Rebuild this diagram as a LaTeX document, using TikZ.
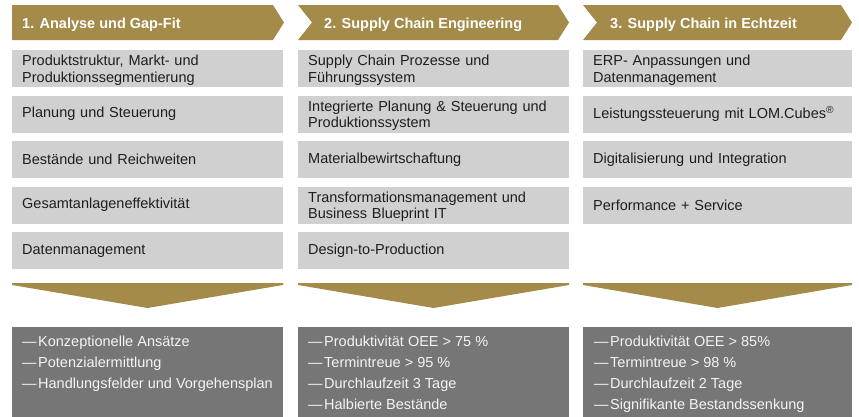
\documentclass[tikz,border=0pt]{standalone}
\usepackage{fontspec}
\setmainfont{Liberation Sans}
\definecolor{gold}{HTML}{A48B4A}
\definecolor{lightbox}{HTML}{D0D0D0}
\definecolor{darkbox}{HTML}{767676}
\definecolor{boxtext}{HTML}{1E1E1E}
\definecolor{restext}{HTML}{F4F4F4}
\newcommand\mystrut{\rule{0pt}{14pt}}
\newcommand\rdash{\textemdash\kern1.5pt}
\tikzset{
  itembox/.style={fill=lightbox, anchor=north west, minimum height=37pt,
    text width=#1, inner xsep=10pt, inner ysep=0pt, align=left, text=boxtext,
    font=\fontsize{14.5}{16.5}\selectfont},
  itembox/.default=251pt,
  headtext/.style={anchor=base west, inner sep=0pt, text=white,
    font=\fontsize{14.5}{16}\selectfont\bfseries},
  restxt/.style={anchor=north west, inner sep=0pt, text=restext, align=left,
    font=\fontsize{14.5}{21}\selectfont},
  goldfill/.style={fill=gold},
  darkfill/.style={fill=darkbox}
}
\begin{document}
\begin{tikzpicture}[x=1pt,y=-1pt]
\useasboundingbox (0,0) rectangle (859,416);
% headers
\fill[goldfill] (12,5) -- (273,5) -- (284,22.5) -- (273,40) -- (12,40) -- cycle;
\fill[goldfill] (298,5) -- (558,5) -- (569,22.5) -- (558,40) -- (298,40) -- (312,22.5) -- cycle;
\fill[goldfill] (583,5) -- (841,5) -- (852,22.5) -- (841,40) -- (583,40) -- (597,22.5) -- cycle;
\node[headtext] (h1) at (22,28) {1. Analyse und Gap-Fit};
\node[headtext] (h2) at (324,28) {2. Supply Chain Engineering};
\node[headtext] (h3) at (610,28) {3. Supply Chain in Echtzeit};
% column 1
\node[itembox] (a1) at (12,50) {\mystrut Produktstruktur, Markt- und\\Produktionssegmentierung};
\node[itembox] (a2) at (12,95.5) {Planung und Steuerung};
\node[itembox] (a3) at (12,141) {Bestände und Reichweiten};
\node[itembox] (a4) at (12,186.5) {Gesamtanlageneffektivität};
\node[itembox] (a5) at (12,232) {Datenmanagement};
% column 2
\node[itembox] (b1) at (298,50) {\mystrut Supply Chain Prozesse und\\Führungssystem};
\node[itembox] (b2) at (298,95.5) {\mystrut Integrierte Planung \& Steuerung und\\Produktionssystem};
\node[itembox] (b3) at (298,141) {Materialbewirtschaftung};
\node[itembox] (b4) at (298,186.5) {\mystrut Transformationsmanagement und\\Business Blueprint IT};
\node[itembox] (b5) at (298,232) {Design-to-Production};
% column 3
\node[itembox=249pt] (c1) at (583,50) {\mystrut ERP- Anpassungen und\\Datenmanagement};
\node[itembox=249pt] (c2) at (583,95.5) {Leistungssteuerung mit LOM.Cubes\textsuperscript{®}};
\node[itembox=249pt] (c3) at (583,141) {Digitalisierung und Integration};
\node[itembox=249pt] (c4) at (583,186.5) {Performance + Service};
% down chevrons
\fill[goldfill] (12,283) -- (283,283) -- (283,285) -- (147.5,308) -- (12,285) -- cycle;
\fill[goldfill] (298,283) -- (569,283) -- (569,285) -- (433.5,308) -- (298,285) -- cycle;
\fill[goldfill] (583,283) -- (852,283) -- (852,285) -- (717.5,308) -- (583,285) -- cycle;
% result boxes
\fill[darkfill] (12,327) rectangle (283,417);
\fill[darkfill] (298,327) rectangle (569,417);
\fill[darkfill] (583,327) rectangle (852,417);
\node[restxt] (r1) at (22,335.5) {\rdash Konzeptionelle Ansätze\\\rdash Potenzialermittlung\\\rdash Handlungsfelder und Vorgehensplan};
\node[restxt] (r2) at (308,335.5) {\rdash Produktivität OEE > 75 \%\\\rdash Termintreue > 95 \%\\\rdash Durchlaufzeit 3 Tage\\\rdash Halbierte Bestände};
\node[restxt] (r3) at (594,335.5) {\rdash Produktivität OEE > 85\%\\\rdash Termintreue > 98 \%\\\rdash Durchlaufzeit 2 Tage\\\rdash Signifikante Bestandssenkung};
\end{tikzpicture}
\end{document}
